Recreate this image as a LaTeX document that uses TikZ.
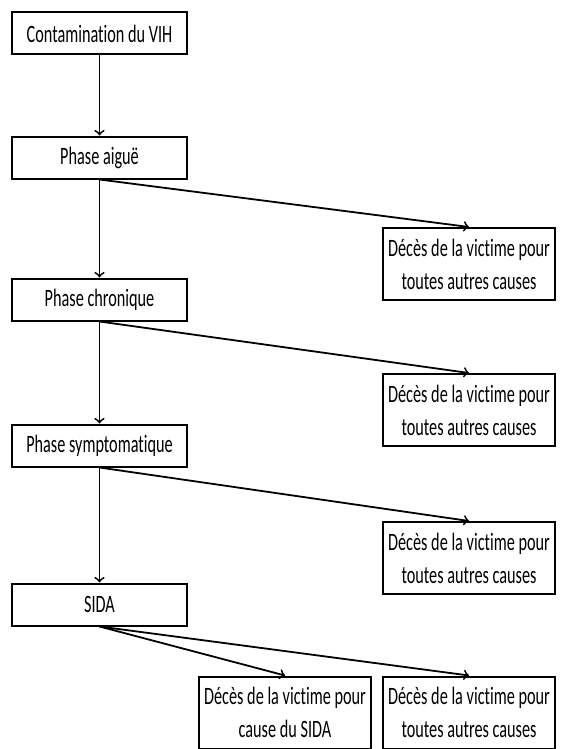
\documentclass[tikz,border=0pt]{standalone}
\usepackage{fontspec}
\setmainfont[FakeStretch=0.65, Ligatures={NoCommon}]{Carlito}
\usepackage{tikz}
\usetikzlibrary{arrows, arrows.meta, positioning}

\begin{document}
\begin{tikzpicture}[
    x=0.5pt, y=-0.5pt,
    phase/.style={draw, line width=1pt, minimum width=87.5pt, minimum height=21pt, align=center, inner sep=0pt, font=\fontsize{12.5}{16}\selectfont},
    deces/.style={draw, line width=1pt, minimum width=86pt, minimum height=36pt, align=center, inner sep=0pt, font=\fontsize{12.5}{16.5}\selectfont},
    arrow/.style={->, line width=0.9pt, >=to}
]
    \useasboundingbox (0,0) rectangle (562,749);

    \node[phase] (contam) at (99.5,33.5) {Contamination du VIH};
    \node[phase] (aigue) at (99.5,157.5) {Phase aiguë};
    \node[phase] (chron) at (99.5,299.5) {Phase chronique};
    \node[phase] (sympt) at (99.5,445.5) {Phase symptomatique};
    \node[phase] (sida) at (99.5,604.5) {SIDA};

    \node[deces] (deces1) at (469,264) {Décès de la victime pour\\toutes autres causes};
    \node[deces] (deces2) at (469,410) {Décès de la victime pour\\toutes autres causes};
    \node[deces] (deces3) at (469,558) {Décès de la victime pour\\toutes autres causes};
    \node[deces] (decessida) at (285,712.5) {Décès de la victime pour\\cause du SIDA};
    \node[deces] (deces4) at (469,712.5) {Décès de la victime pour\\toutes autres causes};

    \draw[arrow] (contam) -- (aigue);
    \draw[arrow] (aigue) -- (chron);
    \draw[arrow] (chron) -- (sympt);
    \draw[arrow] (sympt) -- (sida);

    \draw[arrow] (aigue.south) -- (deces1.north);
    \draw[arrow] (chron.south) -- (deces2.north);
    \draw[arrow] (sympt.south) -- (deces3.north);
    \draw[arrow] (sida.south) -- (decessida.north);
    \draw[arrow] (sida.south) -- (deces4.north);
\end{tikzpicture}
\end{document}
